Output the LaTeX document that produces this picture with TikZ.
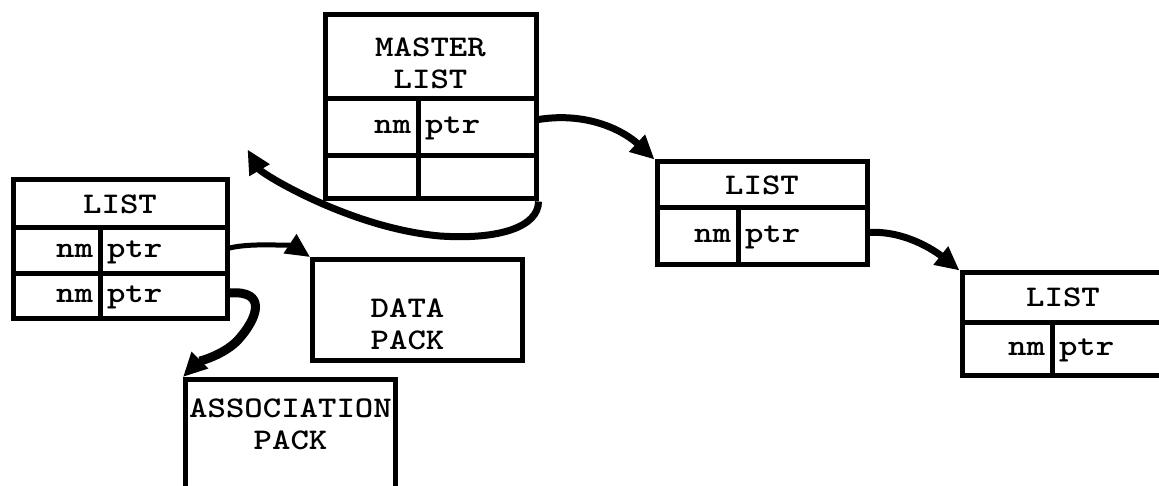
\documentclass[tikz,border=0pt]{standalone}
\usepackage{fontspec}
\usepackage{tikz}
\usetikzlibrary{
  arrows.meta,
  positioning,
  calc
}
\newfontfamily\cellfamily{lmmonolt10-bold}[Extension=.otf,FakeStretch=1.17]
\newcommand{\cellfont}{\cellfamily\fontsize{30}{32}\selectfont}
\tikzset{
  cellbox/.style={
    draw,
    line width=5pt,
    inner sep=7pt,
    font=\cellfont
  },
  titlecell/.style={cellbox,align=center},
  namecell/.style={cellbox,align=right,text height=19pt,text depth=6pt},
  ptrcell/.style={cellbox,align=left,text height=19pt,text depth=6pt},
  packbox/.style={draw,line width=5pt,anchor=north west},
  packtext/.style={align=center,font=\cellfont,inner sep=0pt},
  linkarrow/.style={-{Triangle[length=24pt,width=22pt]},line width=7pt,draw=black}
}

\begin{document}
\begin{tikzpicture}[x=1pt,y=-1pt]
  \useasboundingbox (0,0) rectangle (1159,486);
  % master list
  \node[titlecell,minimum width=211,minimum height=84,text height=64pt] (mtitle) at (430.5,57) {MASTER\\LIST};
  \node[namecell,minimum height=57,text width=79] (mnm) at (371.5,127.5) {nm};
  \node[ptrcell,minimum height=57,text width=104] (mptr) at (477,127.5) {ptr};
  \node[cellbox,minimum width=93,minimum height=43] (mblankl) at (371.5,177.5) {};
  \node[cellbox,minimum width=118,minimum height=43] (mblankr) at (477,177.5) {};
  % left list
  \node[titlecell,minimum width=214,minimum height=48] (lonetitle) at (120,204) {LIST};
  \node[namecell,minimum height=46,text width=73] (lonenma) at (56.5,251) {nm};
  \node[ptrcell,minimum height=46,text width=113] (loneptra) at (163.5,251) {ptr};
  \node[namecell,minimum height=44,text width=73] (lonenmb) at (56.5,296) {nm};
  \node[ptrcell,minimum height=44,text width=113] (loneptrb) at (163.5,296) {ptr};
  % middle list
  \node[titlecell,minimum width=210,minimum height=46] (ltwotitle) at (762,185) {LIST};
  \node[namecell,minimum height=57,text width=67] (ltwonm) at (697.5,236.5) {nm};
  \node[ptrcell,minimum height=57,text width=115] (ltwoptr) at (802.5,236.5) {ptr};
  % right list
  \node[titlecell,minimum width=202,minimum height=49] (lthreetitle) at (1063,297.5) {LIST};
  \node[namecell,minimum height=53,text width=76] (lthreenm) at (1007,348.5) {nm};
  \node[ptrcell,minimum height=53,text width=98] (lthreeptr) at (1108,348.5) {ptr};
  % packs
  \node[packbox,minimum width=210,minimum height=101] (dpack) at (310,257) {};
  \node[packtext] (dtext) at ([xshift=-10pt,yshift=-14pt]dpack.center) {DATA\\PACK};
  \node[packbox,minimum width=210,minimum height=109] (assoc) at (183,377) {};
  \node[packtext,below=22pt of assoc.north] (atext) {ASSOCIATION\\PACK};
  \coordinate (backtip) at ([xshift=18pt,yshift=28pt]lonetitle.north east);
  % pointers
  \draw[linkarrow] ([yshift=8pt]mptr.east) .. controls +(50,-8) and +(-30,-28) .. (ltwotitle.north west);
  \draw[linkarrow] ([yshift=4pt]ltwoptr.east) .. controls +(35,-2) and +(-25,-20) .. (lthreetitle.north west);
  \draw[linkarrow] (mblankr.south east) .. controls +(0,25) and +(60,4) .. (440,236)
    .. controls +(-90,-8) and +(14,24) .. (backtip);
  \draw[linkarrow,line width=5pt] ([yshift=3pt]loneptra.east) .. controls +(25,-6) and +(-15,-10) .. (dpack.north west);
  \draw[linkarrow,line width=9pt] ([yshift=3pt]loneptrb.east) .. controls +(38,-3) and +(20,-22) .. (238,340)
    .. controls +(-14,15) and +(15,-15) .. (assoc.north west);
\end{tikzpicture}
\end{document}
